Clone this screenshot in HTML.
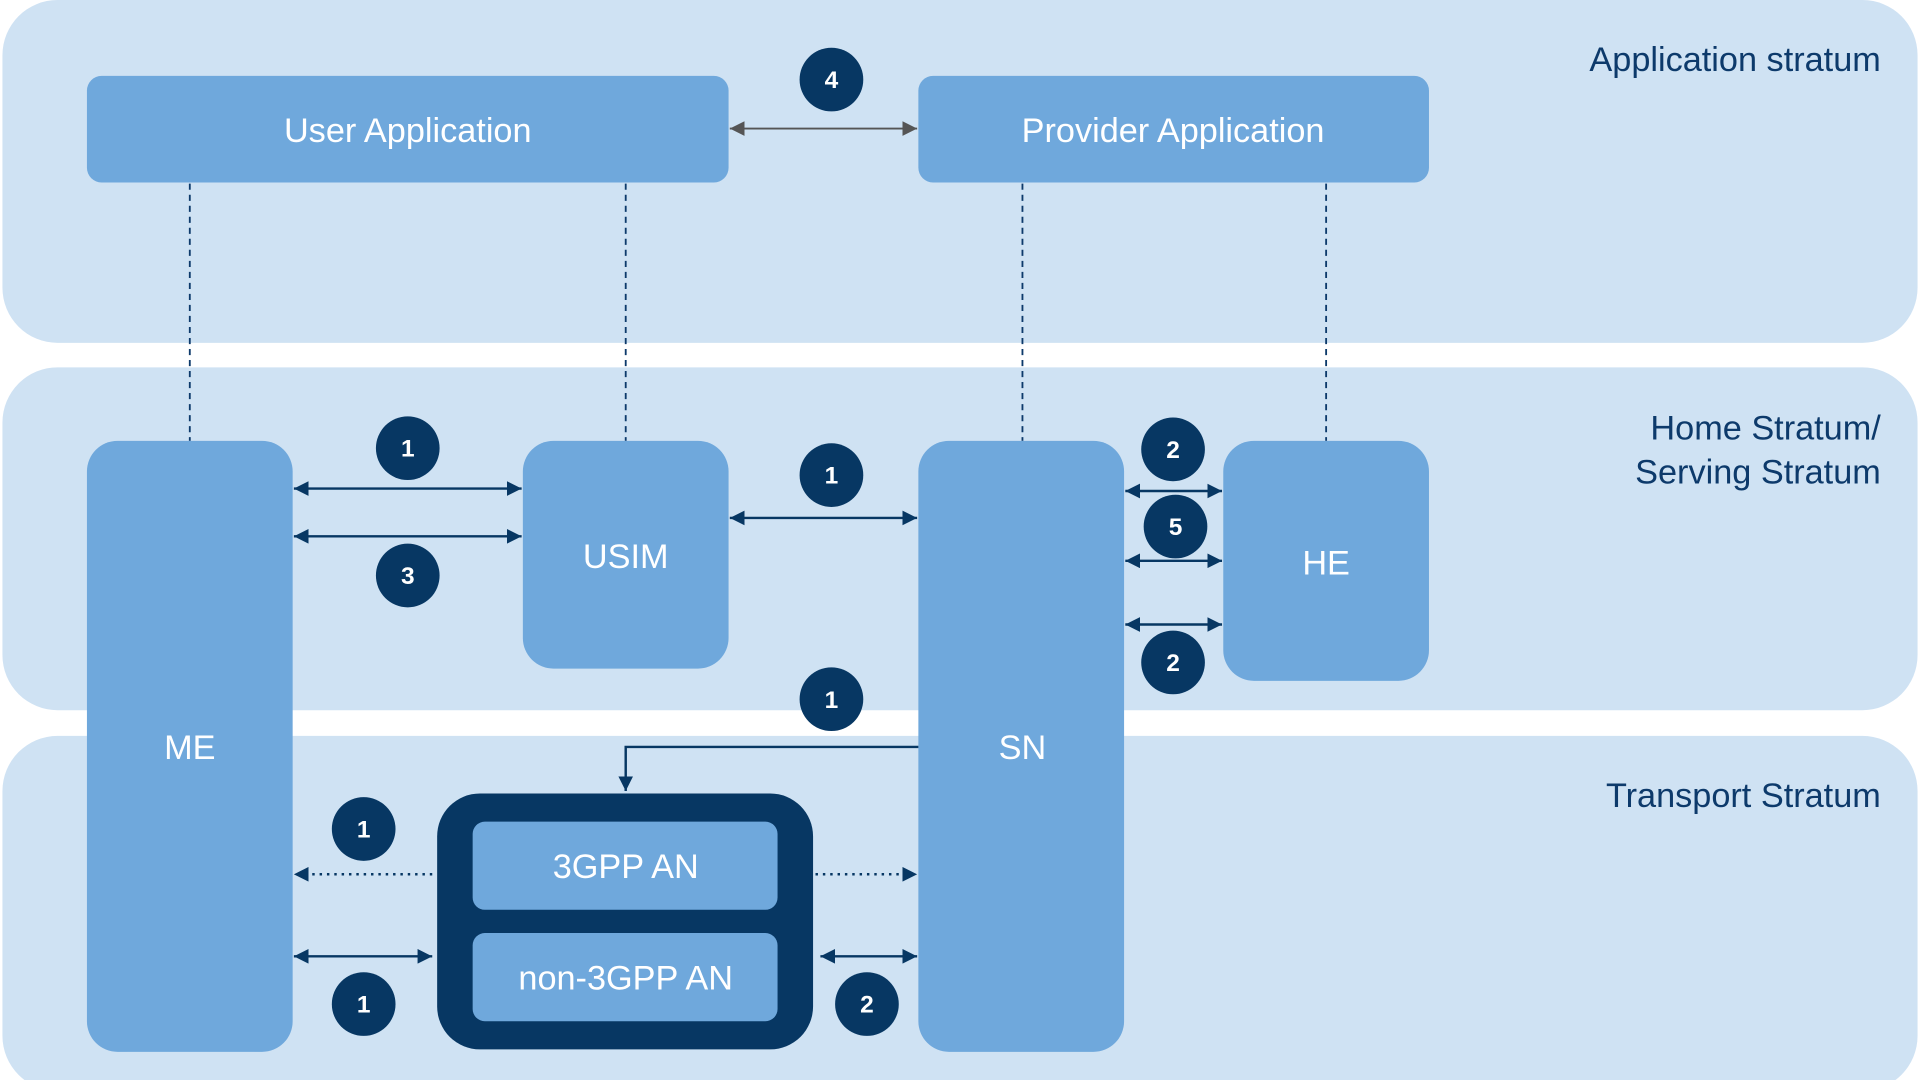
<!DOCTYPE html>
<html><head><style>html,body{margin:0;padding:0;background:#fff}svg{display:block}</style></head>
<body>
<svg width="1920" height="1080" viewBox="0 0 1568 882" xmlns="http://www.w3.org/2000/svg" font-family="Liberation Sans, sans-serif">
<defs>
<marker id="a" viewBox="0 0 10 10" refX="10" refY="5" markerWidth="12" markerHeight="12" markerUnits="userSpaceOnUse" orient="auto-start-reverse"><path d="M0,0 L10,5 L0,10 z" fill="#073763"/></marker>
<marker id="g" viewBox="0 0 10 10" refX="10" refY="5" markerWidth="12" markerHeight="12" markerUnits="userSpaceOnUse" orient="auto-start-reverse"><path d="M0,0 L10,5 L0,10 z" fill="#555"/></marker>
</defs>
<rect width="1568" height="882" fill="#fff"/>
<rect x="2" y="0" width="1564" height="280" rx="45" fill="#cfe2f3"/>
<rect x="2" y="300" width="1564" height="280" rx="45" fill="#cfe2f3"/>
<rect x="2" y="601" width="1564" height="290" rx="45" fill="#cfe2f3"/>
<g fill="#0d3a6b" font-size="28" text-anchor="end">
<text x="1536" y="58">Application stratum</text>
<text x="1536" y="359">Home Stratum/</text>
<text x="1536" y="395">Serving Stratum</text>
<text x="1536" y="659">Transport Stratum</text>
</g>
<g stroke="#0d3a6b" stroke-width="1.5" stroke-dasharray="5,4">
<line x1="155" y1="150" x2="155" y2="360"/><line x1="511" y1="150" x2="511" y2="360"/>
<line x1="835" y1="150" x2="835" y2="360"/><line x1="1083" y1="150" x2="1083" y2="360"/>
</g>
<g fill="#6fa8dc">
<rect x="71" y="62" width="524" height="87" rx="12"/>
<rect x="750" y="62" width="417" height="87" rx="12"/>
<rect x="71" y="360" width="168" height="499" rx="25"/>
<rect x="427" y="360" width="168" height="186" rx="25"/>
<rect x="750" y="360" width="168" height="499" rx="25"/>
<rect x="999" y="360" width="168" height="196" rx="25"/>
</g>
<rect x="357" y="648" width="307" height="209" rx="35" fill="#073763"/>
<rect x="386" y="671" width="249" height="72" rx="10" fill="#6fa8dc"/>
<rect x="386" y="762" width="249" height="72" rx="10" fill="#6fa8dc"/>
<g fill="#fff" font-size="28" text-anchor="middle">
<text x="333" y="116">User Application</text>
<text x="958" y="116">Provider Application</text>
<text x="155" y="620">ME</text>
<text x="511" y="464">USIM</text>
<text x="835" y="620">SN</text>
<text x="1083" y="469">HE</text>
<text x="511" y="717">3GPP AN</text>
<text x="511" y="808">non-3GPP AN</text>
</g>
<line x1="596" y1="105" x2="749" y2="105" stroke="#555" stroke-width="1.5" marker-start="url(#g)" marker-end="url(#g)"/>
<g stroke="#073763" stroke-width="2" fill="none">
<line x1="240" y1="399" x2="426" y2="399" marker-start="url(#a)" marker-end="url(#a)"/>
<line x1="240" y1="438" x2="426" y2="438" marker-start="url(#a)" marker-end="url(#a)"/>
<line x1="596" y1="423" x2="749" y2="423" marker-start="url(#a)" marker-end="url(#a)"/>
<line x1="919" y1="401" x2="998" y2="401" marker-start="url(#a)" marker-end="url(#a)"/>
<line x1="919" y1="458" x2="998" y2="458" marker-start="url(#a)" marker-end="url(#a)"/>
<line x1="919" y1="510" x2="998" y2="510" marker-start="url(#a)" marker-end="url(#a)"/>
<polyline points="750,610 511,610 511,646" marker-end="url(#a)"/>
<line x1="353" y1="714" x2="240" y2="714" stroke-dasharray="2,4" marker-end="url(#a)"/>
<line x1="666" y1="714" x2="749" y2="714" stroke-dasharray="2,4" marker-end="url(#a)"/>
<line x1="240" y1="781" x2="353" y2="781" marker-start="url(#a)" marker-end="url(#a)"/>
<line x1="670" y1="781" x2="749" y2="781" marker-start="url(#a)" marker-end="url(#a)"/>
</g>
<g fill="#073763">
<circle cx="679" cy="65" r="26"/><circle cx="333" cy="366" r="26"/><circle cx="333" cy="470" r="26"/>
<circle cx="679" cy="388" r="26"/><circle cx="958" cy="367" r="26"/><circle cx="960" cy="430" r="26"/>
<circle cx="958" cy="541" r="26"/><circle cx="679" cy="571" r="26"/><circle cx="297" cy="677" r="26"/>
<circle cx="297" cy="820" r="26"/><circle cx="708" cy="820" r="26"/>
</g>
<g fill="#fff" font-size="20" font-weight="bold" text-anchor="middle">
<text x="679" y="72">4</text><text x="333" y="373">1</text><text x="333" y="477">3</text>
<text x="679" y="395">1</text><text x="958" y="374">2</text><text x="960" y="437">5</text>
<text x="958" y="548">2</text><text x="679" y="578">1</text><text x="297" y="684">1</text>
<text x="297" y="827">1</text><text x="708" y="827">2</text>
</g>
</svg>
</body></html>
